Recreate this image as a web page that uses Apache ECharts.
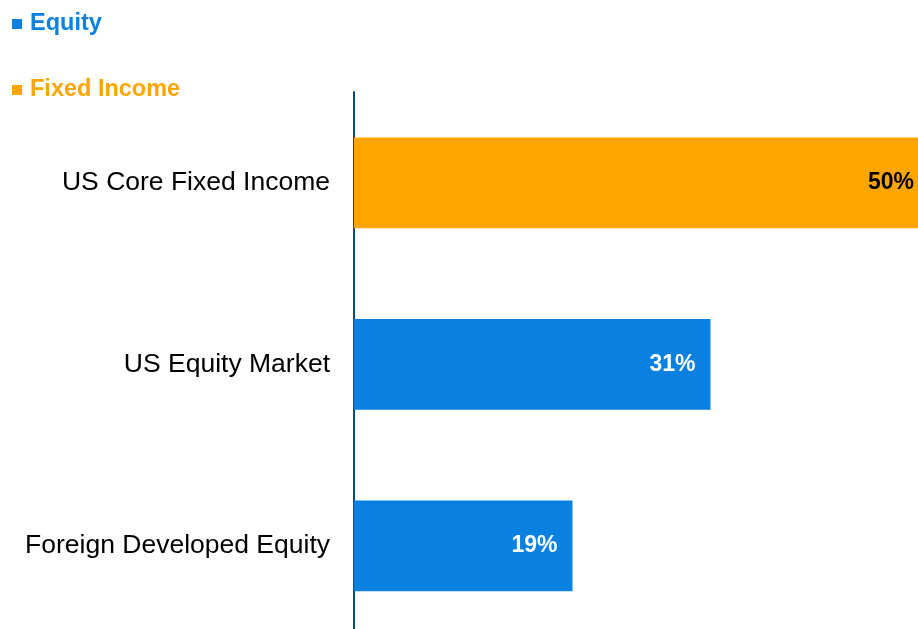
<!DOCTYPE html>
<html>
<head>
<meta charset="utf-8">
<script src="https://cdn.jsdelivr.net/npm/echarts@6/dist/echarts.min.js"></script>
<style>
  html, body { margin: 0; padding: 0; background: #fff; }
  #chart { width: 918px; height: 629px; }
</style>
</head>
<body>
<div id="chart"></div>
<script>
// categories top to bottom
var categories = ['US Core Fixed Income', 'US Equity Market', 'Foreign Developed Equity'];
var equityValues = [null, 31, 19];
var fixedIncomeValues = [50, null, null];

var blue = '#0a80e0';
var orange = '#ffa500';

var mychart = echarts.init(document.getElementById('chart'));
var option = {
    animation: false,
    textStyle: { fontFamily: 'Liberation Sans, Arial, sans-serif' },
    legend: {
        orient: 'vertical',
        left: 7,
        top: 6,
        itemWidth: 10,
        itemHeight: 10,
        itemGap: 40,
        icon: 'rect',
        data: [
            { name: 'Equity', textStyle: { color: blue } },
            { name: 'Fixed Income', textStyle: { color: orange } }
        ],
        textStyle: { fontSize: 23.5, fontWeight: 'bold', lineHeight: 26, padding: [0, 0, 0, 3] }
    },
    grid: { left: 354, right: -11, top: 92, bottom: -7.5, containLabel: false, outerBoundsMode: 'none' },
    xAxis: {
        type: 'value',
        min: 0,
        max: 50,
        show: false
    },
    yAxis: {
        type: 'category',
        inverse: true,
        data: categories,
        axisLine: { show: true, lineStyle: { color: '#0b4a7e', width: 2 } },
        axisTick: { show: false },
        axisLabel: { color: '#000', fontSize: 26.5, margin: 24 }
    },
    series: [
        {
            name: 'Equity',
            type: 'bar',
            stack: 'all',
            barWidth: '50%',
            data: equityValues,
            itemStyle: { color: blue },
            label: {
                show: true,
                position: 'insideRight',
                distance: 15,
                color: '#fff',
                fontSize: 23,
                fontWeight: 'bold',
                formatter: '{c}%'
            }
        },
        {
            name: 'Fixed Income',
            type: 'bar',
            stack: 'all',
            barWidth: '50%',
            data: fixedIncomeValues,
            itemStyle: { color: orange },
            label: {
                show: true,
                position: 'insideRight',
                distance: 15,
                color: '#000',
                fontSize: 23,
                fontWeight: 'bold',
                formatter: '{c}%'
            }
        }
    ]
};
mychart.setOption(option);
</script>
</body>
</html>
